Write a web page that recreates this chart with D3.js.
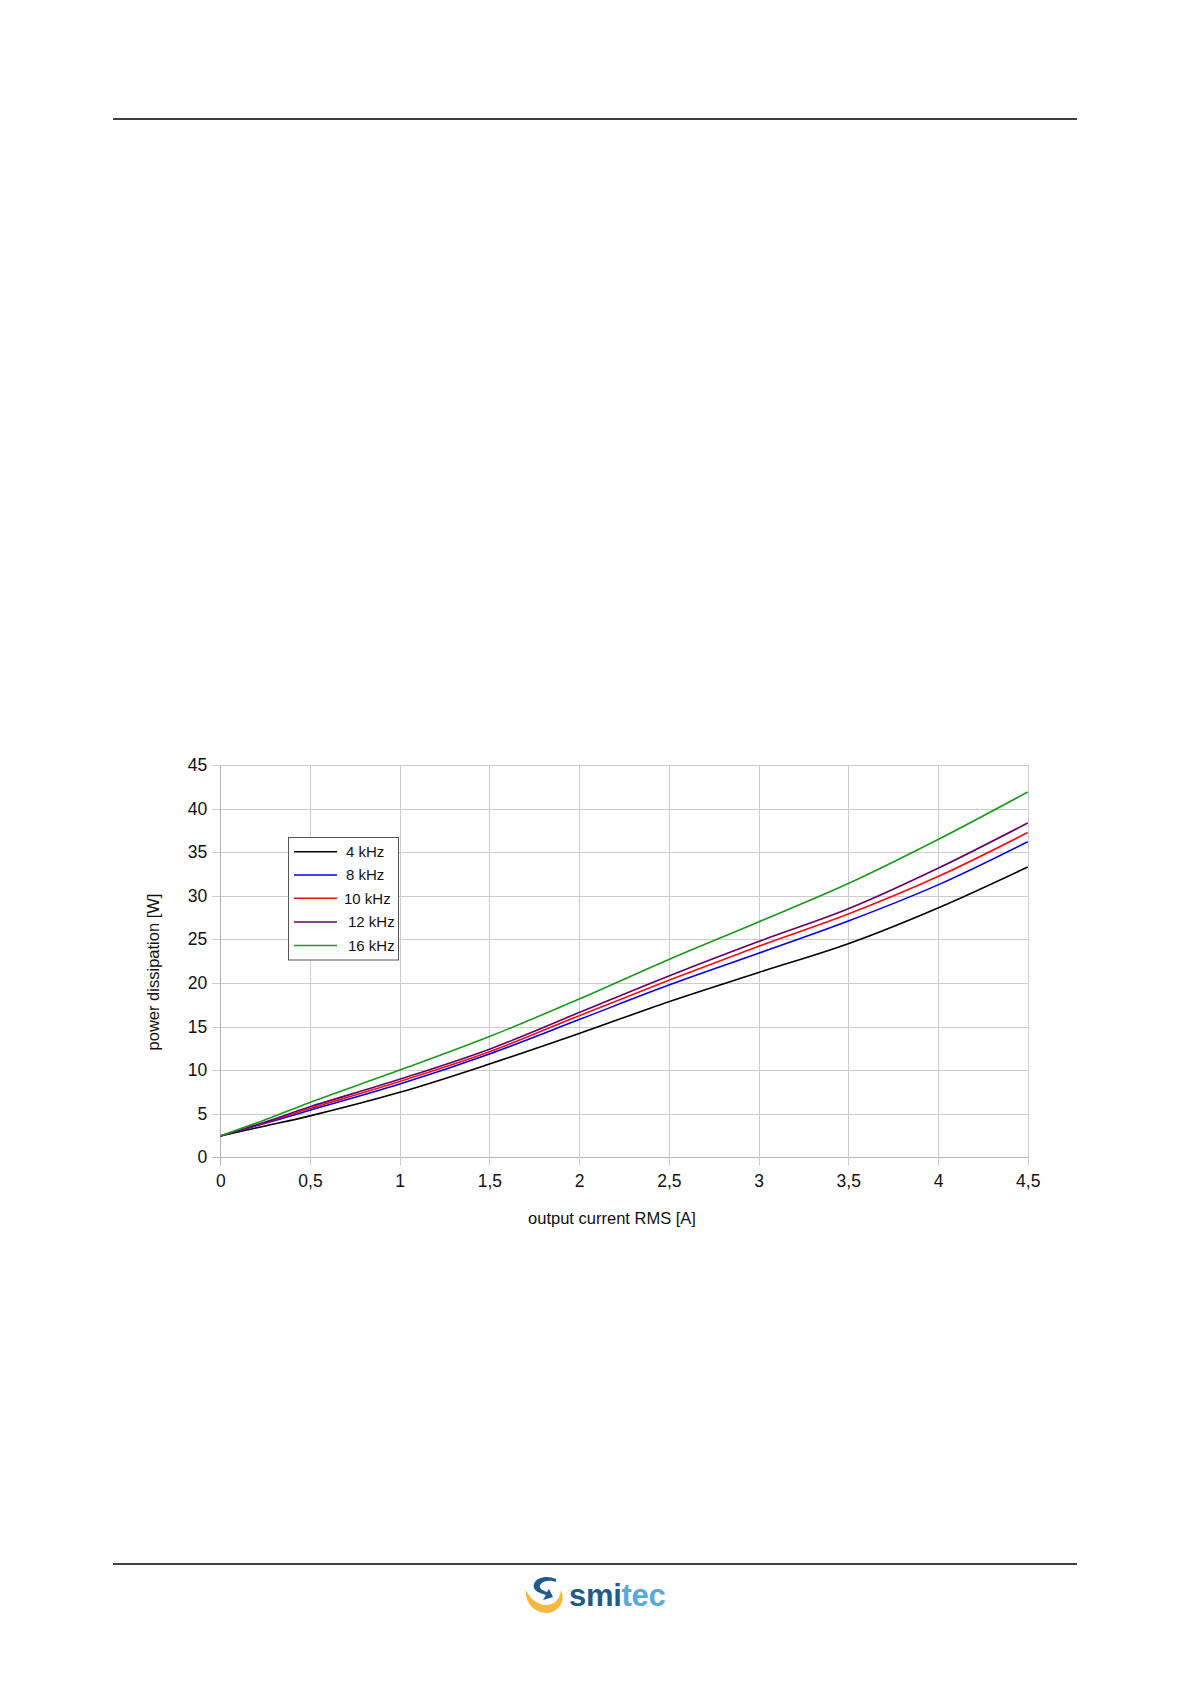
<!DOCTYPE html>
<html>
<head>
<meta charset="utf-8">
<script src="https://cdn.jsdelivr.net/npm/d3@7"></script>
<style>
  html, body { margin: 0; padding: 0; background: #fff; }
  svg { display: block; }
  text { font-family: "Liberation Sans", Arial, sans-serif; }
</style>
</head>
<body>
<svg id="chart" width="1191" height="1684"></svg>
<script>
// ---- data ----
const currents = [0, 0.25, 0.5, 1, 1.5, 2, 2.5, 3, 3.5, 4, 4.5];
const p4kHz  = [2.45, 3.6, 4.75, 7.45, 10.7, 14.2, 17.85, 21.2, 24.5, 28.6, 33.3];
const p8kHz  = [2.45, 3.9, 5.4, 8.4, 11.86, 15.8, 19.75, 23.4, 27.1, 31.25, 36.2];
const p10kHz = [2.45, 4.0, 5.6, 8.7, 12.1, 16.25, 20.3, 24.2, 27.9, 32.2, 37.25];
const p12kHz = [2.45, 4.05, 5.8, 8.95, 12.4, 16.6, 20.8, 24.75, 28.5, 33.15, 38.35];
const p16kHz = [2.45, 4.3, 6.3, 10.0, 13.85, 18.15, 22.7, 27.0, 31.4, 36.45, 41.9];
const seriesNames = ["4 kHz", "8 kHz", "10 kHz", "12 kHz", "16 kHz"];
const xTicks = [0, 0.5, 1, 1.5, 2, 2.5, 3, 3.5, 4, 4.5];
const yTicks = [0, 5, 10, 15, 20, 25, 30, 35, 40, 45];
const xTitle = "output current RMS [A]";
const yTitle = "power dissipation [W]";

const seriesValues = [p4kHz, p8kHz, p10kHz, p12kHz, p16kHz];
const colors = ["#000000", "#0000ee", "#ee1111", "#660066", "#1a9a1a"];

const svg = d3.select("#chart");

// page rules
svg.append("line").attr("x1", 113).attr("x2", 1077).attr("y1", 119).attr("y2", 119)
  .attr("stroke", "#000").attr("stroke-width", 1.5);
svg.append("line").attr("x1", 113).attr("x2", 1077).attr("y1", 1564).attr("y2", 1564)
  .attr("stroke", "#000").attr("stroke-width", 1.5);

// scales
const x = d3.scaleLinear().domain([0, 4.5]).range([220.3, 1027.7]);
const y = d3.scaleLinear().domain([0, 45]).range([1157.3, 765]);
const fmt = d => String(d).replace(".", ",");

const grid = svg.append("g");
grid.selectAll("line.h").data(yTicks).join("line")
  .attr("x1", x(0) - 8).attr("x2", x(4.5))
  .attr("y1", d => Math.round(y(d)) + 0.5).attr("y2", d => Math.round(y(d)) + 0.5)
  .attr("stroke", d => d === 0 ? "#b4b4b4" : "#cccccc").attr("stroke-width", 1);
grid.selectAll("line.v").data(xTicks).join("line")
  .attr("y1", y(45)).attr("y2", y(0) + 8)
  .attr("x1", d => Math.round(x(d)) + 0.5).attr("x2", d => Math.round(x(d)) + 0.5)
  .attr("stroke", d => d === 0 ? "#b4b4b4" : "#cccccc").attr("stroke-width", 1);

// axes (labels only; grid drawn above)
const xAxis = svg.append("g").attr("transform", `translate(0,${y(0)})`)
  .call(d3.axisBottom(x).tickValues(xTicks).tickFormat(fmt).tickSize(0).tickPadding(17));
const yAxis = svg.append("g").attr("transform", `translate(${x(0)},0)`)
  .call(d3.axisLeft(y).tickValues(yTicks).tickSize(0).tickPadding(13));
[xAxis, yAxis].forEach(a => {
  a.select(".domain").remove();
  a.selectAll("text").attr("font-size", 17.5).attr("fill", "#111")
    .attr("font-family", '"Liberation Sans", Arial, sans-serif');
});

// lines
const line = d3.line()
  .x((d, i) => x(currents[i]))
  .y(d => y(d))
  .curve(d3.curveCatmullRom.alpha(0.5));
svg.append("g").selectAll("path").data(seriesValues).join("path")
  .attr("d", d => line(d))
  .attr("fill", "none")
  .attr("stroke", (d, i) => colors[i])
  .attr("stroke-width", 1.6);

// axis titles
svg.append("text").attr("x", 612).attr("y", 1224).attr("text-anchor", "middle")
  .attr("font-size", 16.5).attr("fill", "#111").text(xTitle);
svg.append("text").attr("transform", "translate(159,972) rotate(-90)")
  .attr("text-anchor", "middle").attr("font-size", 16.5).attr("fill", "#111").text(yTitle);

// legend
const lg = svg.append("g");
lg.append("rect").attr("x", 288.5).attr("y", 837.5).attr("width", 110).attr("height", 122.5)
  .attr("fill", "#fff").attr("stroke", "#555").attr("stroke-width", 1);
const rowY = [851.7, 875, 898.3, 922, 945.5];
const textX = [346, 346, 344, 348, 348];
seriesNames.forEach((n, i) => {
  lg.append("line").attr("x1", 294).attr("x2", 337).attr("y1", rowY[i]).attr("y2", rowY[i])
    .attr("stroke", colors[i]).attr("stroke-width", 1.6);
  lg.append("text").attr("x", textX[i]).attr("y", rowY[i]).attr("dy", "0.36em")
    .attr("font-size", 15).attr("fill", "#111").text(n);
});

// footer logo
const logo = svg.append("g");
logo.append("path")
  .attr("d", "M526,1590 C524,1606 540,1616 552,1612 C562,1608 565,1598 561,1590 C560,1600 553,1606 545,1605 C536,1604 530,1598 526,1590 Z")
  .attr("fill", "#f4b942");
logo.append("path")
  .attr("d", "M556,1579 C548,1575 536,1577 534,1584 C532,1591 540,1593 546,1595 L543,1600 L553,1597 L549,1589 L547,1592 C541,1590 538,1587 541,1584 C544,1580 551,1580 556,1582 Z")
  .attr("fill", "#1f5c8c");
const lt = logo.append("text").attr("x", 569).attr("y", 1606)
  .attr("font-size", 31).attr("font-weight", "bold").attr("letter-spacing", -0.3);
lt.append("tspan").attr("fill", "#1f5c8c").text("smi");
lt.append("tspan").attr("fill", "#55aadd").text("tec");
</script>
</body>
</html>
